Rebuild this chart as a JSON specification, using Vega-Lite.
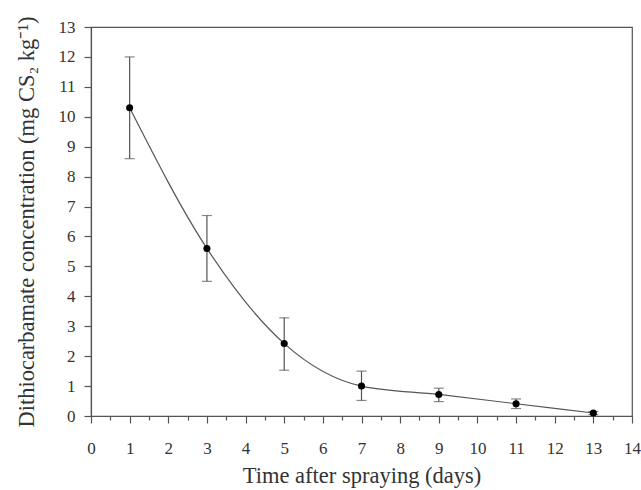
{
  "$schema": "https://vega.github.io/schema/vega-lite/v6.json",
  "width": 541,
  "height": 389,
  "autosize": "none",
  "padding": {"left": 91, "top": 27, "right": 9, "bottom": 74},
  "background": "white",
  "config": {
    "view": {"stroke": "#555", "strokeWidth": 1.2},
    "font": "Liberation Serif",
    "axisY": {
      "values": [0,0.5,1,1.5,2,2.5,3,3.5,4,4.5,5,5.5,6,6.5,7,7.5,8,8.5,9,9.5,10,10.5,11,11.5,12,12.5,13],
      "labelExpr": "datum.value % 1 === 0 ? format(datum.value, 'd') : ''",
      "tickSize": 7,
      "tickDash": {"condition": {"test": "datum.value % 1 !== 0", "value": [4, 20]}, "value": []},
      "grid": false,
      "domainColor": "#555", "tickColor": "#555", "tickWidth": 1.2, "domainWidth": 1.2,
      "labelFont": "Liberation Serif", "labelFontSize": 17, "labelColor": "#333",
      "labelPadding": 9,
      "labelFlush": false, "labelOverlap": false,
      "titleFont": "Liberation Serif", "titleFontSize": 22.5, "titleFontWeight": "normal", "titleColor": "#333",
      "titlePadding": 20
    }
  },
  "data": {
    "values": [
      {"day": 1, "conc": 10.3, "lo": 8.6, "hi": 12.0},
      {"day": 3, "conc": 5.6, "lo": 4.5, "hi": 6.7},
      {"day": 5, "conc": 2.42, "lo": 1.53, "hi": 3.28},
      {"day": 7, "conc": 1.0, "lo": 0.52, "hi": 1.5},
      {"day": 9, "conc": 0.72, "lo": 0.48, "hi": 0.93},
      {"day": 11, "conc": 0.41, "lo": 0.25, "hi": 0.57},
      {"day": 13, "conc": 0.1, "lo": 0.05, "hi": 0.15}
    ]
  },
  "encoding": {
    "x": {
      "field": "day", "type": "quantitative",
      "scale": {"domain": [0, 14], "nice": false},
      "axis": {
        "title": "Time after spraying (days)",
        "values": [0,0.5,1,1.5,2,2.5,3,3.5,4,4.5,5,5.5,6,6.5,7,7.5,8,8.5,9,9.5,10,10.5,11,11.5,12,12.5,13,13.5,14],
        "labelExpr": "datum.value % 1 === 0 ? format(datum.value, 'd') : ''",
        "tickSize": 7,
        "tickDash": {"condition": {"test": "datum.value % 1 !== 0", "value": [4, 20]}, "value": []},
        "grid": false,
        "domainColor": "#555", "tickColor": "#555", "tickWidth": 1.2, "domainWidth": 1.2,
        "labelFont": "Liberation Serif", "labelFontSize": 17, "labelColor": "#333",
        "labelPadding": 17,
        "labelFlush": false, "labelOverlap": false,
        "titleFont": "Liberation Serif", "titleFontSize": 22.5, "titleFontWeight": "normal", "titleColor": "#333",
        "titlePadding": 8
      }
    }
  },
  "layer": [
    {
      "mark": {"type": "line", "interpolate": "monotone", "color": "#555", "strokeWidth": 1.2},
      "encoding": {
        "y": {
          "field": "conc", "type": "quantitative",
          "scale": {"domain": [0, 13], "nice": false},
          "axis": {"title": "Dithiocarbamate concentration (mg CS₂ kg⁻¹)"}
        }
      }
    },
    {
      "mark": {"type": "rule", "color": "#555", "strokeWidth": 1.2},
      "encoding": {
        "y": {"field": "lo", "type": "quantitative", "axis": {"title": "Dithiocarbamate concentration (mg CS₂ kg⁻¹)"}},
        "y2": {"field": "hi"}
      }
    },
    {
      "mark": {"type": "tick", "orient": "horizontal", "color": "#555", "size": 10, "thickness": 1.2},
      "encoding": {"y": {"field": "lo", "type": "quantitative", "axis": {"title": "Dithiocarbamate concentration (mg CS₂ kg⁻¹)"}}}
    },
    {
      "mark": {"type": "tick", "orient": "horizontal", "color": "#555", "size": 10, "thickness": 1.2},
      "encoding": {"y": {"field": "hi", "type": "quantitative", "axis": {"title": "Dithiocarbamate concentration (mg CS₂ kg⁻¹)"}}}
    },
    {
      "mark": {"type": "point", "filled": true, "color": "black", "opacity": 1, "size": 50},
      "encoding": {"y": {"field": "conc", "type": "quantitative", "axis": {"title": "Dithiocarbamate concentration (mg CS₂ kg⁻¹)"}}}
    }
  ]
}
